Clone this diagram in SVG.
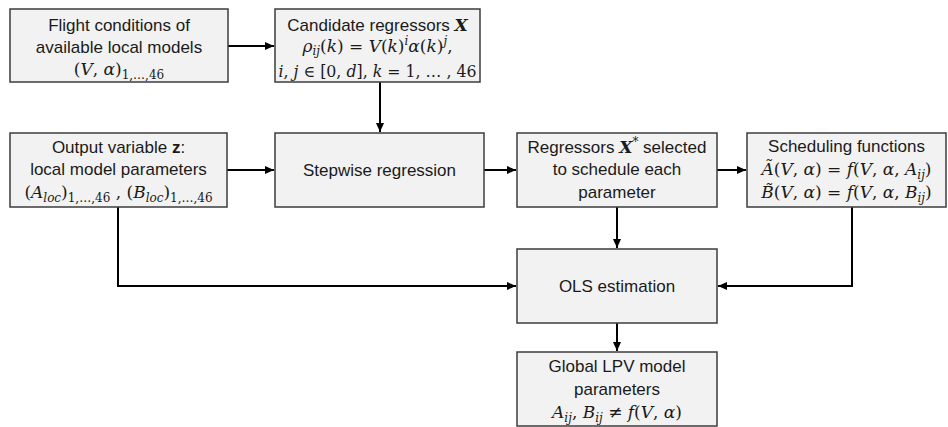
<svg xmlns="http://www.w3.org/2000/svg" width="948" height="427" viewBox="0 0 948 427">
<defs>
<style>
.box{fill:#f2f2f2;stroke:#3c3c3c;stroke-width:1.5}
.t{font-family:"Liberation Sans",Arial,sans-serif;font-size:17px;fill:#1a1a1a;text-anchor:middle}
.m{font-family:"DejaVu Serif","Liberation Serif",serif;font-size:17px;fill:#1a1a1a;text-anchor:middle}
.i{font-style:italic}
.s{font-size:12px}
.x{font-family:"DejaVu Serif","Liberation Serif",serif;font-weight:bold;font-style:italic;font-size:17px}
.c{fill:none;stroke:#000;stroke-width:2}
</style>
<marker id="ah" markerUnits="userSpaceOnUse" markerWidth="10" markerHeight="10" viewBox="0 0 10 10" refX="9" refY="5" orient="auto">
<path d="M0,1 L9,5 L0,9 Z" fill="#000"/>
</marker>
</defs>
<g id="connectors">
<path class="c" d="M228,46 H274" marker-end="url(#ah)"/>
<path class="c" d="M380,82 V132" marker-end="url(#ah)"/>
<path class="c" d="M227,170 H274" marker-end="url(#ah)"/>
<path class="c" d="M484,170 H516" marker-end="url(#ah)"/>
<path class="c" d="M717,170 H746" marker-end="url(#ah)"/>
<path class="c" d="M617,207 V248" marker-end="url(#ah)"/>
<path class="c" d="M118,207 V286 H516" marker-end="url(#ah)"/>
<path class="c" d="M852,207 V286 H718" marker-end="url(#ah)"/>
<path class="c" d="M617,323 V351" marker-end="url(#ah)"/>
</g>
<g id="flight">
<rect class="box" x="10" y="9" width="218" height="73"/>
<text class="t" x="119" y="31">Flight conditions of</text>
<text class="t" x="119" y="53">available local models</text>
<text class="m" x="119" y="75">(<tspan class="i">V</tspan>, <tspan class="i">α</tspan>)<tspan class="s" dy="4">1,…,46</tspan></text>
</g>
<g id="candidate">
<rect class="box" x="275" y="9" width="205" height="73"/>
<text class="t" x="377.5" y="31">Candidate regressors <tspan class="x">X</tspan></text>
<text class="m" x="377.5" y="52"><tspan class="i">ρ</tspan><tspan class="s i" dy="3">ij</tspan><tspan dy="-3">(</tspan><tspan class="i">k</tspan>) = <tspan class="i">V</tspan>(<tspan class="i">k</tspan>)<tspan class="s i" dy="-7">i</tspan><tspan class="i" dy="7">α</tspan>(<tspan class="i">k</tspan>)<tspan class="s i" dy="-7">j</tspan><tspan dy="7">,</tspan></text>
<text class="m" x="377.5" y="77" style="font-size:16px" textLength="198" lengthAdjust="spacingAndGlyphs"><tspan class="i">i</tspan>, <tspan class="i">j</tspan> ∈ [0, <tspan class="i">d</tspan>], <tspan class="i">k</tspan> = 1, … , 46</text>
</g>
<g id="output">
<rect class="box" x="10" y="133" width="217" height="74"/>
<text class="t" x="118.5" y="153">Output variable <tspan font-weight="bold">z</tspan>:</text>
<text class="t" x="118.5" y="175">local model parameters</text>
<text class="m" x="118.5" y="198">(<tspan class="i">A</tspan><tspan class="s i" dy="4">loc</tspan><tspan dy="-4">)</tspan><tspan class="s" dy="4">1,…,46</tspan><tspan dy="-4"> , (</tspan><tspan class="i">B</tspan><tspan class="s i" dy="4">loc</tspan><tspan dy="-4">)</tspan><tspan class="s" dy="4">1,…,46</tspan></text>
</g>
<g id="stepwise">
<rect class="box" x="275" y="133" width="209" height="74"/>
<text class="t" x="379.5" y="176">Stepwise regression</text>
</g>
<g id="regressors">
<rect class="box" x="517" y="133" width="200" height="74"/>
<text class="t" x="617" y="153">Regressors <tspan class="x">X</tspan><tspan style="font-family:'DejaVu Serif',serif;font-size:12px" dy="-7">*</tspan><tspan dy="7"> selected</tspan></text>
<text class="t" x="617" y="175">to schedule each</text>
<text class="t" x="617" y="198">parameter</text>
</g>
<g id="scheduling">
<rect class="box" x="747" y="133" width="199" height="74"/>
<text class="t" x="846.5" y="152">Scheduling functions</text>
<text class="m" x="846.5" y="175"><tspan class="i">Ã</tspan>(<tspan class="i">V</tspan>, <tspan class="i">α</tspan>) = <tspan class="i">f</tspan>(<tspan class="i">V</tspan>, <tspan class="i">α</tspan>, <tspan class="i">A</tspan><tspan class="s i" dy="4">ij</tspan><tspan dy="-4">)</tspan></text>
<text class="m" x="846.5" y="198"><tspan class="i">B̃</tspan>(<tspan class="i">V</tspan>, <tspan class="i">α</tspan>) = <tspan class="i">f</tspan>(<tspan class="i">V</tspan>, <tspan class="i">α</tspan>, <tspan class="i">B</tspan><tspan class="s i" dy="4">ij</tspan><tspan dy="-4">)</tspan></text>
</g>
<g id="ols">
<rect class="box" x="517" y="249" width="200" height="74"/>
<text class="t" x="617" y="292">OLS estimation</text>
</g>
<g id="global">
<rect class="box" x="517" y="352" width="200" height="74"/>
<text class="t" x="617" y="372">Global LPV model</text>
<text class="t" x="617" y="395">parameters</text>
<text class="m" x="617" y="418"><tspan class="i">A</tspan><tspan class="s i" dy="4">ij</tspan><tspan dy="-4">, </tspan><tspan class="i">B</tspan><tspan class="s i" dy="4">ij</tspan><tspan dy="-4"> ≠ </tspan><tspan class="i">f</tspan>(<tspan class="i">V</tspan>, <tspan class="i">α</tspan>)</text>
</g>
</svg>
